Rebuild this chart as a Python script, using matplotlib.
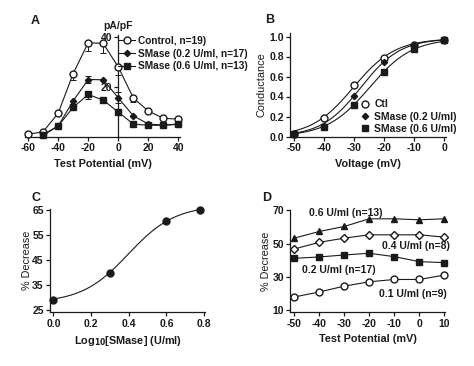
import numpy as np
import matplotlib
matplotlib.use("Agg")
import matplotlib.pyplot as plt
from matplotlib.lines import Line2D

plt.rcParams['font.family'] = ['Liberation Sans', 'DejaVu Sans']
plt.rcParams['font.weight'] = 'bold'
plt.rcParams['axes.unicode_minus'] = False
TXT = '#1a1a1a'

# ---------------- Panel A data ----------------
a_v_ctl = [-60, -50, -40, -30, -20, -10, 0, 10, 20, 30, 40]
a_ctl = [1.1, 2.1, 9.5, 25.5, 37.9, 37.6, 28.1, 15.7, 10.4, 7.5, 7.2]
a_ctl_err = [0, 0, 0, 2.5, 3.5, 4.0, 3.0, 1.8, 0, 0, 0]
a_v = [-50, -40, -30, -20, -10, 0, 10, 20, 30, 40]
a_s02 = [0.7, 4.4, 14.5, 23.1, 23.0, 15.7, 8.5, 5.2, 4.8, 5.2]
a_s02_err = [0, 0, 0, 1.5, 0, 2.2, 0, 0, 0, 0]
a_s06 = [1.0, 4.4, 11.9, 17.1, 14.8, 10.0, 5.2, 4.7, 4.7, 5.1]
a_s06_err = [0, 0, 0, 1.8, 1.0, 0, 0, 0, 0, 0]
a_labels = ['Control, n=19)', 'SMase (0.2 U/ml, n=17)', 'SMase (0.6 U/ml, n=13)']

# ---------------- Panel B data ----------------
b_v = [-50, -40, -30, -20, -10, 0]
b_ctl = [0.03, 0.19, 0.52, 0.79, 0.92, 0.97]
b_s02 = [0.03, 0.11, 0.41, 0.75, 0.92, 0.97]
b_s06 = [0.03, 0.10, 0.32, 0.65, 0.88, 0.97]
b_labels = ['Ctl', 'SMase (0.2 U/ml)', 'SMase (0.6 U/ml)']
# Boltzmann fit parameters (Gmax, V1/2, k)
b_fit_ctl = (0.98, -30.3, 7.0)
b_fit_s02 = (0.98, -27.8, 6.6)
b_fit_s06 = (0.98, -24.9, 7.1)

# ---------------- Panel C data ----------------
c_x = [0.0, 0.3, 0.6, 0.78]
c_y = [28.8, 39.8, 60.6, 65.0]
# Hill fit parameters (bottom, top, logEC50, slope)
c_fit = (27.8, 66.8, 0.398, 3.5)

# ---------------- Panel D data ----------------
d_v = [-50, -40, -30, -20, -10, 0, 10]
d_06 = [53.3, 57.3, 60.3, 64.9, 64.9, 64.3, 64.9]
d_04 = [46.8, 50.8, 53.3, 55.3, 55.3, 55.3, 53.9]
d_02 = [41.2, 42.0, 43.2, 44.2, 42.2, 39.2, 38.6]
d_01 = [18.0, 21.0, 24.5, 27.1, 28.5, 28.5, 31.1]
d_labels = ['0.6 U/ml (n=13)', '0.4 U/ml (n=8)', '0.2 U/ml (n=17)', '0.1 U/ml (n=9)']

W, H = 474, 366
fig = plt.figure(figsize=(W / 100, H / 100), dpi=100)


def px_axes(left, top, right, bottom):
    return fig.add_axes([left / W, 1 - bottom / H, (right - left) / W, (bottom - top) / H])


def style(ax):
    for s in ['top', 'right']:
        ax.spines[s].set_visible(False)
    for s in ['left', 'bottom']:
        ax.spines[s].set_linewidth(0.9)
        ax.spines[s].set_color(TXT)
    ax.tick_params(direction='out', length=3, width=0.9, colors=TXT,
                   labelsize=7.5, pad=1.5)
    for lab in ax.get_xticklabels() + ax.get_yticklabels():
        lab.set_fontweight('bold')


LW = 0.8
MS = 5
XL = 7.8   # x-label size
YL = 7.8   # y-label size

# ---------------- Panel A ----------------
axA = px_axes(25, 35, 180, 137)
axA.set_xlim(-62, 41)
axA.set_ylim(0, 41)
axA.errorbar(a_v_ctl, a_ctl, yerr=[a_ctl_err, [0] * len(a_ctl_err)], color=TXT,
             lw=LW, marker='o', mfc='white', mec=TXT, ms=MS, capsize=2,
             elinewidth=0.7, capthick=0.7, clip_on=False, zorder=3)
axA.errorbar(a_v, a_s02, yerr=[a_s02_err, a_s02_err], color=TXT, lw=LW,
             marker='D', mfc=TXT, mec=TXT, ms=3.2, capsize=2, elinewidth=0.7,
             capthick=0.7, clip_on=False, zorder=3)
axA.errorbar(a_v, a_s06, yerr=[a_s06_err, [0] * len(a_s06_err)], color=TXT,
             lw=LW, marker='s', mfc=TXT, mec=TXT, ms=4.2, capsize=2,
             elinewidth=0.7, capthick=0.7, clip_on=False, zorder=3)
axA.spines['left'].set_position(('data', 0))
axA.set_xticks([-60, -40, -20, 0, 20, 40])
axA.set_yticks([20, 40])
axA.set_xlabel('Test Potential (mV)', fontsize=XL, fontweight='bold', color=TXT, labelpad=4)
axA.text(0, 42.5, 'pA/pF', ha='center', va='bottom', fontsize=7.5,
         fontweight='bold', color=TXT)
style(axA)
handlesA = [
    Line2D([], [], color=TXT, lw=LW, marker='o', mfc='white', mec=TXT, ms=MS),
    Line2D([], [], color=TXT, lw=LW, marker='D', mfc=TXT, mec=TXT, ms=3.2),
    Line2D([], [], color=TXT, lw=LW, marker='s', mfc=TXT, mec=TXT, ms=4.2),
]
legA = axA.legend(handlesA, a_labels, loc='upper left', bbox_to_anchor=(0.6, 0.99),
                  frameon=False, fontsize=7.3, handlelength=1.7, handletextpad=0.3,
                  labelspacing=0.25, borderaxespad=0, borderpad=0)
for t in legA.get_texts():
    t.set_fontweight('bold')
    t.set_color(TXT)

# ---------------- Panel B ----------------
axB = px_axes(290, 33, 446, 137)
axB.set_xlim(-51.4, 0.6)
axB.set_ylim(-0.005, 1.035)
vv = np.linspace(-50, 0, 200)
for (gm, vh, k) in [b_fit_ctl, b_fit_s02, b_fit_s06]:
    axB.plot(vv, gm / (1 + np.exp((vh - vv) / k)), color=TXT, lw=LW)
axB.plot(b_v, b_ctl, 'o', mfc='white', mec=TXT, ms=MS, zorder=3, clip_on=False)
axB.plot(b_v, b_s02, 'D', mfc=TXT, mec=TXT, ms=3.2, zorder=3, clip_on=False)
axB.plot(b_v, b_s06, 's', mfc=TXT, mec=TXT, ms=4.2, zorder=3, clip_on=False)
axB.set_xticks([-50, -40, -30, -20, -10, 0])
axB.set_yticks([0.0, 0.2, 0.4, 0.6, 0.8, 1.0])
axB.yaxis.set_major_formatter(matplotlib.ticker.FormatStrFormatter('%.1f'))
axB.set_xlabel('Voltage (mV)', fontsize=XL, fontweight='bold', color=TXT, labelpad=4)
axB.set_ylabel('Conductance', fontsize=YL, fontweight='normal', color=TXT, labelpad=2)
style(axB)
handlesB = [
    Line2D([], [], ls='none', marker='o', mfc='white', mec=TXT, ms=MS),
    Line2D([], [], ls='none', marker='D', mfc=TXT, mec=TXT, ms=3.2),
    Line2D([], [], ls='none', marker='s', mfc=TXT, mec=TXT, ms=4.2),
]
legB = axB.legend(handlesB, b_labels, loc='lower right', bbox_to_anchor=(1.07, 0.03),
                  frameon=False, fontsize=7.5, handlelength=1.0, handletextpad=0.4,
                  labelspacing=0.22, borderaxespad=0, borderpad=0)
for t in legB.get_texts():
    t.set_fontweight('bold')
    t.set_color(TXT)

# ---------------- Panel C ----------------
axC = px_axes(50, 208.5, 205, 312.3)
axC.set_xlim(-0.018, 0.805)
axC.set_ylim(24, 65.5)
xx = np.linspace(0, 0.78, 200)
bot, top, ec, hs = c_fit
axC.plot(xx, bot + (top - bot) / (1 + 10 ** ((ec - xx) * hs)), color=TXT, lw=LW)
axC.plot(c_x, c_y, 'o', mfc=TXT, mec=TXT, ms=MS, zorder=3, clip_on=False)
axC.set_xticks([0.0, 0.2, 0.4, 0.6, 0.8])
axC.xaxis.set_major_formatter(matplotlib.ticker.FormatStrFormatter('%.1f'))
axC.set_yticks([25, 35, 45, 55, 65])
axC.set_xlabel('Log$_{\\mathbf{10}}$[SMase] (U/ml)', fontsize=XL, fontweight='bold',
               color=TXT, labelpad=4)
axC.set_ylabel('% Decrease', fontsize=YL, fontweight='normal', color=TXT, labelpad=0.5)
style(axC)

# ---------------- Panel D ----------------
axD = px_axes(290.3, 209.8, 445, 312.3)
axD.set_xlim(-51.6, 10.3)
axD.set_ylim(8.8, 70.3)
axD.plot(d_v, d_06, '-^', color=TXT, lw=LW, mfc=TXT, mec=TXT, ms=4.2, clip_on=False)
axD.plot(d_v, d_04, '-D', color=TXT, lw=LW, mfc='white', mec=TXT, ms=3.6, clip_on=False)
axD.plot(d_v, d_02, '-s', color=TXT, lw=LW, mfc=TXT, mec=TXT, ms=5, clip_on=False)
axD.plot(d_v, d_01, '-o', color=TXT, lw=LW, mfc='white', mec=TXT, ms=MS, clip_on=False)
axD.set_xticks([-50, -40, -30, -20, -10, 0, 10])
axD.set_yticks([10, 30, 50, 70])
axD.set_xlabel('Test Potential (mV)', fontsize=XL, fontweight='bold', color=TXT, labelpad=4)
axD.set_ylabel('% Decrease', fontsize=YL, fontweight='normal', color=TXT, labelpad=1)
style(axD)
d_lab_pos = [(-44.2, 68.3), (-14.9, 48.6), (-46.9, 34.1), (-16.2, 20.0)]
for lab, (x, y) in zip(d_labels, d_lab_pos):
    axD.text(x, y, lab, fontsize=7.5, fontweight='bold', color=TXT, va='center', ha='left')

# ---------------- Panel letters ----------------
for letter, (x, y) in zip('ABCD', [(35, 21), (270, 20), (36, 198), (267, 198)]):
    fig.text(x / W, 1 - y / H, letter, fontsize=9, fontweight='bold', color=TXT,
             ha='center', va='center')

fig.savefig('out.png', dpi=100, facecolor='white')
